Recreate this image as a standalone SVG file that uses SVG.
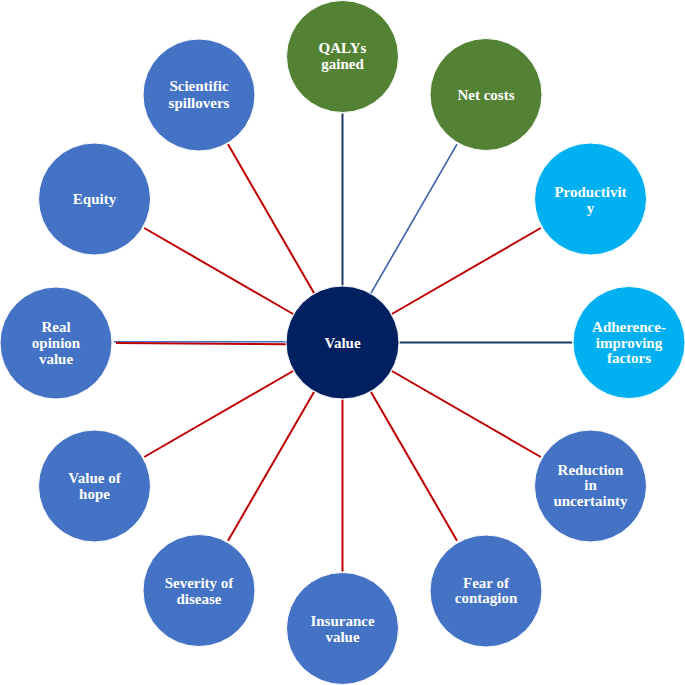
<svg xmlns="http://www.w3.org/2000/svg" width="685" height="685" viewBox="0 0 685 685">
<style>
.c{stroke:#fff;stroke-width:1}
.g{fill:#548235}
.lb{fill:#00B0F0}
.mb{fill:#4472C4}
.nv{fill:#002060}
text{font-family:"Liberation Serif","Times New Roman",serif;font-weight:bold;font-size:15px;fill:#fff;text-anchor:middle}
.r{stroke:#C00000;stroke-width:2;fill:none}
.b{stroke:#203864;stroke-width:2;fill:none}
.b2{stroke:#3A5FA8;stroke-width:1.6;fill:none}
</style>
<rect width="685" height="685" fill="#fff"/>
<g id="connectors">
<line class="b" x1="342.5" y1="285.5" x2="342.5" y2="113.5"/>
<line class="b2" x1="371" y1="293.1" x2="457" y2="144.2"/>
<line class="r" x1="391.9" y1="314" x2="540.8" y2="228"/>
<line class="b" x1="399.5" y1="342.5" x2="572" y2="342.5"/>
<line class="r" x1="391.9" y1="371" x2="540.8" y2="457"/>
<line class="r" x1="371" y1="391.9" x2="457" y2="540.8"/>
<line class="r" x1="342.5" y1="399.5" x2="342.5" y2="571.5"/>
<line class="r" x1="314" y1="391.9" x2="228" y2="540.8"/>
<line class="r" x1="293.1" y1="371" x2="144.2" y2="457"/>
<line x1="114" y1="341.8" x2="287" y2="341.8" stroke="#4472C4" stroke-width="1.4"/>
<line class="r" x1="116" y1="343" x2="287" y2="344.3"/>
<line class="r" x1="293.1" y1="314" x2="144.2" y2="228"/>
<line class="r" x1="314" y1="293.1" x2="228" y2="144.2"/>
</g>
<g id="value"><circle class="c nv" cx="342.5" cy="342.5" r="56.5"/><text x="342.5" y="347.5">Value</text></g>
<g id="qalys"><circle class="c g" cx="342.5" cy="56.5" r="56"/><text x="342.5" y="53">QALYs</text><text x="342.5" y="69">gained</text></g>
<g id="netcosts"><circle class="c g" cx="486" cy="94.5" r="56"/><text x="486" y="100">Net costs</text></g>
<g id="productivity"><circle class="c lb" cx="590.5" cy="199" r="56"/><text x="590.5" y="197">Productivit</text><text x="590.5" y="213">y</text></g>
<g id="adherence"><circle class="c lb" cx="629" cy="342.5" r="56"/><text x="629" y="332">Adherence-</text><text x="629" y="348">improving</text><text x="629" y="363">factors</text></g>
<g id="reduction"><circle class="c mb" cx="590.5" cy="486" r="56"/><text x="590.5" y="475">Reduction</text><text x="590.5" y="490">in</text><text x="590.5" y="506">uncertainty</text></g>
<g id="fear"><circle class="c mb" cx="486" cy="591" r="56"/><text x="486" y="588">Fear of</text><text x="486" y="603">contagion</text></g>
<g id="insurance"><circle class="c mb" cx="342.5" cy="628.5" r="56"/><text x="342.5" y="626">Insurance</text><text x="342.5" y="642">value</text></g>
<g id="severity"><circle class="c mb" cx="199" cy="590.5" r="56"/><text x="199" y="588">Severity of</text><text x="199" y="604">disease</text></g>
<g id="hope"><circle class="c mb" cx="94.5" cy="486" r="56"/><text x="94.5" y="483">Value of</text><text x="94.5" y="499">hope</text></g>
<g id="realopinion"><circle class="c mb" cx="56" cy="343" r="56"/><text x="56" y="332">Real</text><text x="56" y="348">opinion</text><text x="56" y="364">value</text></g>
<g id="equity"><circle class="c mb" cx="94.5" cy="199" r="56"/><text x="94.5" y="204">Equity</text></g>
<g id="scientific"><circle class="c mb" cx="199" cy="95" r="56"/><text x="199" y="91">Scientific</text><text x="199" y="108">spillovers</text></g>
</svg>
